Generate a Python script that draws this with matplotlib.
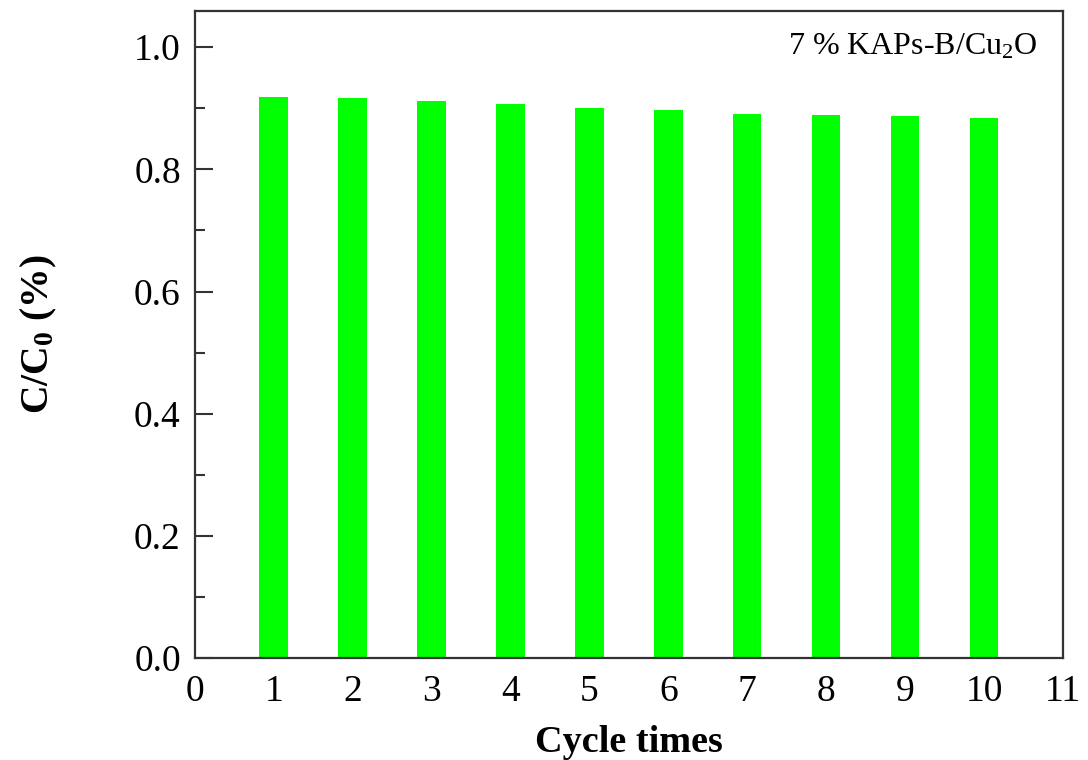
import matplotlib
matplotlib.use("Agg")
import matplotlib.pyplot as plt
from matplotlib.ticker import MultipleLocator, FormatStrFormatter

cycles = [1, 2, 3, 4, 5, 6, 7, 8, 9, 10]
ratio = [0.919, 0.916, 0.912, 0.907, 0.901, 0.897, 0.891, 0.889, 0.887, 0.884]
xticks = list(range(0, 12))

plt.rcParams['font.family'] = 'Liberation Serif'
plt.rcParams['mathtext.fontset'] = 'custom'
plt.rcParams['mathtext.rm'] = 'Liberation Serif'
plt.rcParams['mathtext.it'] = 'Liberation Serif:italic'
plt.rcParams['mathtext.bf'] = 'Liberation Serif:bold'

fig = plt.figure(figsize=(10.88, 7.6), dpi=100)
ax = fig.add_axes([0.179, 0.134, 0.798, 0.8515])

ax.bar(cycles, ratio, width=0.36, color='#00ff00', edgecolor='none')

ax.set_xlim(0, 11)
ax.set_ylim(0, 1.059)
ax.set_xticks(xticks)
ax.yaxis.set_major_locator(MultipleLocator(0.2))
ax.yaxis.set_minor_locator(MultipleLocator(0.1))
ax.yaxis.set_major_formatter(FormatStrFormatter('%.1f'))

ax.tick_params(axis='x', length=0, labelsize=27, pad=12)
ax.tick_params(axis='y', which='major', direction='in', length=13, width=1.5,
               labelsize=27, pad=10, color='#333333')
ax.tick_params(axis='y', which='minor', direction='in', length=7, width=1.5,
               color='#333333')

for s in ax.spines.values():
    s.set_linewidth(1.6)
    s.set_color('#333333')

ax.set_xlabel('Cycle times', fontsize=27.5, fontweight='bold', labelpad=11)
ax.set_ylabel(r'C/C$_\mathbf{0}$ (%)', fontsize=28.5, fontweight='bold', labelpad=54)

ax.text(0.97, 0.945, r'7 % KAPs-B/Cu$_\mathregular{2}$O', transform=ax.transAxes,
        ha='right', va='center', fontsize=23)

fig.savefig('out.png', dpi=100)
